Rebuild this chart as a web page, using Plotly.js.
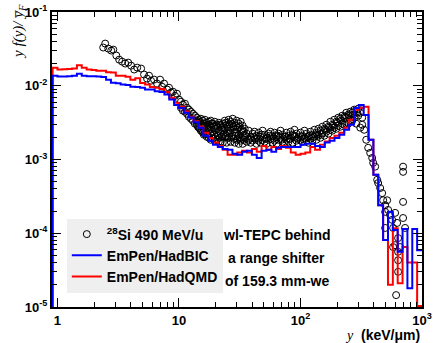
<!DOCTYPE html>
<html>
<head>
<meta charset="utf-8">
<script src="https://cdn.plot.ly/plotly-3.0.1.min.js"></script>
<style>html,body{margin:0;padding:0;background:#fff;}</style>
</head>
<body>
<div id="chart" style="width:433px;height:343px;"></div>
<script>
// Lineal energy spectra y f(y)/yF, 28Si 490 MeV/u behind a 159.3 mm-we range shifter

// Simulated histograms: log-spaced bins, 25 per decade, first bin starts just below y = 1
const binsPerDecade = 25;
const firstBinExponent = -1;

const bicValues = [
  0.0137, 0.0133, 0.0133, 0.0135, 0.0137, 0.0146, 0.0137, 0.0135, 0.0135, 0.0133,
  0.0131, 0.0121, 0.0110, 0.0108, 0.0104, 0.0102, 0.0097, 0.0096, 0.0094, 0.0089,
  0.0089, 0.0084, 0.0082, 0.0076, 0.0065, 0.0055, 0.0050, 0.0043, 0.0037, 0.0032,
  0.0027, 0.0021, 0.0018, 0.00158, 0.00148, 0.00139, 0.00136, 0.00120, 0.00116, 0.00127,
  0.00131, 0.00116, 0.00105, 0.00131, 0.00136, 0.00127, 0.00144, 0.00148, 0.00148, 0.00148,
  0.00148, 0.00158, 0.00164, 0.00164, 0.00153, 0.00148, 0.00170, 0.00180, 0.00195, 0.00217,
  0.00253, 0.00296, 0.0050, 0.0055, 0.0040, 0.00185, 0.00062, 0.00024, 8.1e-5, 1.95e-4,
  1.11e-4, 5.6e-5, 1.14e-4, 1.8e-5, 1.14e-4, 5.9e-5
];

const qmdValues = [
  0.0175, 0.0166, 0.0168, 0.0169, 0.0171, 0.0189, 0.0175, 0.0166, 0.0163, 0.0160,
  0.0160, 0.0152, 0.0151, 0.0137, 0.0137, 0.0132, 0.0121, 0.0126, 0.0109, 0.0104,
  0.0096, 0.0094, 0.0090, 0.0083, 0.0069, 0.0059, 0.0052, 0.0045, 0.0038, 0.0033,
  0.0028, 0.0023, 0.00195, 0.00170, 0.00153, 0.00136, 0.00116, 0.00116, 0.00124, 0.00131,
  0.00124, 0.00139, 0.00127, 0.00153, 0.00136, 0.00148, 0.00139, 0.00153, 0.00144, 0.00124,
  0.00116, 0.00120, 0.00124, 0.00148, 0.00136, 0.00158, 0.00175, 0.00195, 0.00210, 0.0023,
  0.0027, 0.00346, 0.00473, 0.0050, 0.0052, 0.00185, 0.00062, 0.00024, 8.1e-5, 2.0e-5,
  1.17e-4, 2.1e-5, 6.5e-5, 4.0e-5, 4.0e-5, 1.03e-5
];

// Measured wl-TEPC spectrum (lineal energy in keV/um, y f(y)/yF)
const measY = [
  2.38, 2.47, 2.62, 2.77, 2.88, 3.05, 3.22, 3.41, 3.61, 3.82,
  4.04, 4.28, 4.53, 4.88, 5.16, 5.46, 5.67, 5.89, 6.24, 6.60,
  6.99, 7.26, 7.54, 7.97, 8.28, 8.60, 8.93, 9.27, 9.63, 10.0,
  10.38, 10.38, 10.78, 10.78, 11.20, 11.20, 11.63, 11.63, 12.07, 12.07,
  12.54, 12.54, 13.02, 13.02, 13.52, 13.52, 14.04, 14.04, 14.04, 14.58, 14.58,
  15.14, 15.14, 15.14, 15.72, 15.72, 15.72, 16.33, 16.33, 16.33, 16.95, 16.95, 16.95,
  17.61, 17.61, 17.61, 18.28, 18.28, 18.28, 18.99, 18.99, 18.99, 19.72, 19.72, 19.72,
  20.47, 20.47, 20.47, 21.26, 21.26, 21.26, 22.08, 22.08, 22.08, 22.93, 22.93, 22.93,
  23.81, 23.81, 23.81, 24.72, 24.72, 24.72, 25.67, 25.67, 25.67, 26.66, 26.66, 26.66,
  27.69, 27.69, 27.69, 28.75, 28.75, 28.75, 29.86, 29.86, 29.86, 31.01, 31.01, 31.01,
  32.20, 32.20, 32.20, 33.44, 33.44, 33.44,
  34.73, 34.73, 36.06, 36.06, 37.45, 37.45, 38.89, 38.89, 40.39, 40.39,
  41.94, 41.94, 43.56, 43.56, 45.23, 45.23, 46.97, 46.97, 48.78, 48.78,
  50.66, 50.66, 52.61, 52.61, 54.63, 54.63, 56.73, 56.73, 58.91, 58.91,
  61.18, 61.18, 63.53, 63.53, 65.98, 65.98, 68.51, 68.51, 71.15, 71.15,
  73.89, 73.89, 76.73, 76.73, 79.68, 79.68, 82.75, 82.75, 85.93, 85.93,
  89.24, 89.24, 92.67, 92.67, 96.24, 96.24, 100.0, 100.0, 103.8, 103.8,
  107.8, 107.8, 112.0, 112.0, 116.3, 116.3, 120.7, 120.7, 125.4, 125.4,
  130.2, 130.2, 135.2, 135.2, 140.4, 140.4, 145.8, 145.8, 151.4, 151.4,
  157.3, 157.3, 163.3, 163.3, 169.6, 169.6, 176.1, 176.1, 182.9, 182.9,
  189.9, 189.9, 197.2, 197.2, 204.8, 204.8, 212.7, 212.7, 220.9, 220.9,
  229.4, 229.4, 238.2, 238.2, 247.4, 247.4, 256.9, 256.9, 266.8, 266.8,
  277.0, 277.0, 287.7, 287.7, 298.8, 298.8, 310.3, 310.3, 322.2, 322.2,
  334.6, 347.5, 360.8, 374.7, 389.2, 396.6, 411.8, 427.7, 435.8, 452.6,
  470.0, 479.0, 497.5, 497.5, 516.6, 526.4, 546.7, 567.7, 578.5, 600.8,
  600.8, 578.5, 623.9, 635.8, 635.8, 635.8, 635.8, 612.2, 660.2, 698.7,
  698.7, 698.7, 698.7, 725.6, 497.5,
  14.31, 14.31, 14.86, 14.86, 15.43, 15.43, 16.02, 16.02, 16.64, 16.64,
  17.28, 17.28, 17.94, 17.94, 18.63, 18.63, 19.35, 19.35, 20.09, 20.09,
  20.86, 20.86, 21.67, 21.67, 22.50, 22.50, 23.36, 23.36, 24.26, 24.26,
  25.19, 25.19, 26.16, 26.16, 27.17, 27.17, 28.21, 28.21, 29.30, 29.30,
  30.43, 30.43, 31.60, 31.60, 32.81, 32.81, 34.08, 34.08,
  35.39, 38.16, 41.16, 44.38, 47.86, 51.62, 55.67, 60.04, 64.75, 69.83,
  75.30, 81.21, 87.58, 94.45, 101.9, 109.9, 118.5, 127.8, 137.8, 148.6,
  160.3, 172.8, 186.4, 201.0, 216.8, 233.8, 252.1, 271.9, 293.2
];

const measYF = [
  0.0330, 0.0373, 0.0319, 0.0300, 0.0309, 0.0257, 0.0226, 0.0212, 0.0200, 0.0206,
  0.0187, 0.0166, 0.0176, 0.0171, 0.0142, 0.0125, 0.0137, 0.0117, 0.0121, 0.0107,
  0.0121, 0.0097, 0.0107, 0.0089, 0.0094, 0.0081, 0.0083, 0.0073, 0.0078, 0.0065,
  0.00608, 0.00504, 0.00554, 0.00459, 0.00571, 0.00445, 0.00504, 0.00418, 0.00474, 0.00380,
  0.00445, 0.00357, 0.00418, 0.00336, 0.00393, 0.00306, 0.00369, 0.00336, 0.00296, 0.00346, 0.00270,
  0.00357, 0.00306, 0.00246, 0.00336, 0.00278, 0.00231, 0.00346, 0.00287, 0.00224, 0.00315, 0.00261, 0.00203,
  0.00325, 0.00253, 0.00197, 0.00336, 0.00270, 0.00185, 0.00306, 0.00238, 0.00191, 0.00325, 0.00261, 0.00180,
  0.00296, 0.00231, 0.00185, 0.00315, 0.00246, 0.00174, 0.00287, 0.00224, 0.00174, 0.00306, 0.00253, 0.00169,
  0.00336, 0.00270, 0.00203, 0.00296, 0.00231, 0.00169, 0.00346, 0.00261, 0.00197, 0.00325, 0.00246, 0.00174,
  0.00357, 0.00278, 0.00210, 0.00315, 0.00231, 0.00169, 0.00336, 0.00253, 0.00185, 0.00306, 0.00217, 0.00163,
  0.00325, 0.00246, 0.00180, 0.00287, 0.00210, 0.00163,
  0.00261, 0.00197, 0.00224, 0.00174, 0.00246, 0.00185, 0.00203, 0.00169, 0.00224, 0.00180,
  0.00238, 0.00191, 0.00210, 0.00163, 0.00231, 0.00180, 0.00203, 0.00169, 0.00246, 0.00185,
  0.00217, 0.00174, 0.00197, 0.00163, 0.00224, 0.00185, 0.00238, 0.00191, 0.00210, 0.00169,
  0.00231, 0.00180, 0.00203, 0.00163, 0.00224, 0.00185, 0.00246, 0.00197, 0.00217, 0.00174,
  0.00203, 0.00163, 0.00231, 0.00185, 0.00210, 0.00174, 0.00238, 0.00191, 0.00217, 0.00169,
  0.00253, 0.00203, 0.00224, 0.00180, 0.00203, 0.00163, 0.00231, 0.00185, 0.00210, 0.00174,
  0.00246, 0.00197, 0.00224, 0.00180, 0.00203, 0.00169, 0.00238, 0.00191, 0.00217, 0.00180,
  0.00253, 0.00203, 0.00231, 0.00185, 0.00261, 0.00210, 0.00246, 0.00197, 0.00278, 0.00224,
  0.00261, 0.00210, 0.00296, 0.00238, 0.00278, 0.00224, 0.00325, 0.00253, 0.00296, 0.00246,
  0.00346, 0.00270, 0.00325, 0.00261, 0.00369, 0.00287, 0.00357, 0.00278, 0.00393, 0.00306,
  0.00380, 0.00296, 0.00431, 0.00325, 0.00405, 0.00306, 0.00445, 0.00346, 0.00431, 0.00336,
  0.00474, 0.00369, 0.00445, 0.00306, 0.00489, 0.00393, 0.00431, 0.00270, 0.00369, 0.00296,
  0.00253, 0.00185, 0.00144, 0.00123, 0.00105, 0.00090, 0.00080, 0.00053, 0.00048, 0.00041,
  0.00035, 0.00028, 0.00024, 0.000195, 0.00028, 0.000207, 0.000177, 0.000152, 0.000118, 0.000189,
  6.9e-5, 6.5e-5, 0.000138, 8.6e-5, 5.6e-5, 4.3e-5, 3.0e-5, 1.45e-5, 6.5e-5, 0.00080,
  0.00068, 0.000266, 0.000161, 0.000118, 0.000118,
  0.00315, 0.00278, 0.00325, 0.00261, 0.00296, 0.00246, 0.00306, 0.00217, 0.00278, 0.00231,
  0.00296, 0.00217, 0.00287, 0.00224, 0.00306, 0.00210, 0.00278, 0.00217, 0.00287, 0.00203,
  0.00270, 0.00210, 0.00296, 0.00197, 0.00270, 0.00203, 0.00287, 0.00217, 0.00315, 0.00210,
  0.00278, 0.00197, 0.00296, 0.00224, 0.00306, 0.00203, 0.00278, 0.00191, 0.00287, 0.00210,
  0.00270, 0.00191, 0.00278, 0.00197, 0.00253, 0.00191, 0.00238, 0.00185,
  0.00210, 0.00191, 0.00203, 0.00191, 0.00217, 0.00191, 0.00210, 0.00191, 0.00210, 0.00185,
  0.00203, 0.00191, 0.00210, 0.00191, 0.00203, 0.00191, 0.00210, 0.00203, 0.00217, 0.00224,
  0.00253, 0.00270, 0.00287, 0.00315, 0.00336, 0.00369, 0.00393, 0.00405, 0.00431
];

const yTickVals = [1e-5, 1e-4, 1e-3, 1e-2, 1e-1];
const yTickText = ['10<sup>-5</sup>', '10<sup>-4</sup>', '10<sup>-3</sup>', '10<sup>-2</sup>', '10<sup>-1</sup>'];
const xTickVals = [1, 10, 100, 1000];
const xTickText = ['1', '10', '10<sup>2</sup>', '10<sup>3</sup>'];

const legendLabels = ['<sup>28</sup>Si 490 MeV/u', 'EmPen/HadBIC', 'EmPen/HadQMD'];
const noteLines = ['wl-TEPC behind', 'a range shifter', 'of 159.3 mm-we'];

// Build step outline for a histogram: rise from below the axis at the first edge,
// one flat segment per bin, closed at the last edge.
function stepOutline(values) {
  const xs = [], ys = [];
  const edge = k => Math.pow(10, (k + firstBinExponent) / binsPerDecade);
  xs.push(edge(0)); ys.push(1e-7);
  for (let i = 0; i < values.length; i++) { xs.push(edge(i)); ys.push(values[i]); }
  xs.push(edge(values.length)); ys.push(values[values.length - 1]);
  return {xs, ys};
}

// Minor tick positions 2..9 within each decade
function minorTicks(lowDecade, highDecade) {
  const v = [];
  for (let d = lowDecade; d < highDecade; d++)
    for (let m = 2; m <= 9; m++) v.push(m * Math.pow(10, d));
  return v;
}

const bic = stepOutline(bicValues);
const qmd = stepOutline(qmdValues);

const sans = 'Liberation Sans, Arial, sans-serif';
const serif = 'Liberation Serif, Times New Roman, serif';

const traces = [
  {
    x: measY, y: measYF, type: 'scatter', mode: 'markers', name: legendLabels[0],
    marker: {symbol: 'circle-open', size: 7, color: '#000', line: {width: 1, color: '#000'}},
    legendrank: 1
  },
  {
    x: qmd.xs, y: qmd.ys, type: 'scatter', mode: 'lines', name: legendLabels[2],
    line: {shape: 'hv', color: '#ff0000', width: 2}, legendrank: 3
  },
  {
    x: bic.xs, y: bic.ys, type: 'scatter', mode: 'lines', name: legendLabels[1],
    line: {shape: 'hv', color: '#0000ff', width: 2}, legendrank: 2
  }
];

const axisCommon = {
  type: 'log', showgrid: false, zeroline: false,
  showline: true, linecolor: '#000', linewidth: 2, mirror: 'allticks',
  ticks: 'inside', ticklen: 9, tickwidth: 1, tickcolor: '#000',
  tickfont: {family: sans, size: 13, color: '#000', weight: 'bold'}
};

const layout = {
  width: 433, height: 343,
  margin: {l: 52, r: 11, t: 12, b: 36},
  paper_bgcolor: '#fff', plot_bgcolor: '#fff',
  showlegend: true,
  legend: {
    x: 0.04, y: 0.3, xanchor: 'left', yanchor: 'top',
    bgcolor: '#efefef', borderwidth: 0,
    font: {family: sans, size: 14, color: '#000', weight: 'bold'},
    tracegroupgap: 2, traceorder: 'normal'
  },
  xaxis: Object.assign({}, axisCommon, {
    range: [-0.045, 3],
    tickmode: 'array', tickvals: xTickVals, ticktext: xTickText,
    minor: {tickmode: 'array', tickvals: minorTicks(-1, 3), ticks: 'inside', ticklen: 5, tickwidth: 1, tickcolor: '#000'}
  }),
  yaxis: Object.assign({}, axisCommon, {
    range: [-5, -1],
    tickmode: 'array', tickvals: yTickVals, ticktext: yTickText,
    minor: {tickmode: 'array', tickvals: minorTicks(-5, -1), ticks: 'inside', ticklen: 5, tickwidth: 1, tickcolor: '#000'}
  }),
  annotations: [
    {
      text: 'y f(y)/ y\u0305<sub>F</sub>', textangle: -90,
      xref: 'paper', yref: 'paper', x: -0.09, y: 1.035,
      xanchor: 'center', yanchor: 'top', showarrow: false,
      font: {family: serif, size: 15, color: '#000', style: 'italic'}
    },
    {
      text: '<span style="font-family:Liberation Serif;font-style:italic;font-weight:normal">y</span>\u00a0\u00a0(keV/\u03bcm)',
      xref: 'paper', yref: 'paper', x: 1.0, y: -0.095,
      xanchor: 'right', yanchor: 'middle', showarrow: false,
      font: {family: sans, size: 14, color: '#000', weight: 'bold'}
    }
  ].concat(noteLines.map((t, i) => ({
    text: t, xref: 'paper', yref: 'paper', x: 0.608, y: 0.244 - i * 0.078,
    xanchor: 'center', yanchor: 'middle', showarrow: false,
    font: {family: sans, size: 14, color: '#000', weight: 'bold'}
  })))
};

Plotly.newPlot('chart', traces, layout, {displayModeBar: false, staticPlot: true});
</script>
</body>
</html>
